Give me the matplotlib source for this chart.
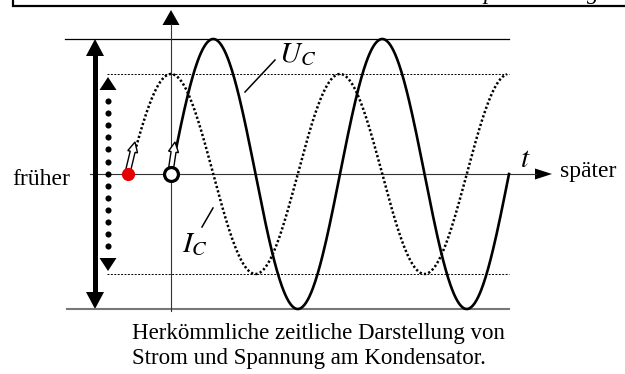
import numpy as np
from matplotlib import pyplot
from matplotlib.patches import FancyArrow

# diagram values (pixel-like units, origin where the t axis meets the vertical axis)
period = 169.0
u_amp = 135.0
i_amp = 100.0
u_start, u_end = 5.0, 338.0
i_start, i_end = -36.0, 336.0
start_red = -43.0  # red point: start of the current curve (earlier)
start_black = 0.0  # open circle: start of the voltage curve

caption = ['Herkömmliche zeitliche Darstellung von',
           'Strom und Spannung am Kondensator.']

pyplot.rcParams['font.family'] = ['Liberation Serif', 'DejaVu Serif']
pyplot.rcParams['mathtext.fontset'] = 'stix'

fig = pyplot.figure(figsize=(6.25, 3.74), dpi=100)
ax = fig.add_axes([0, 0, 1, 1])
ax.set_xlim(-171, 454)
ax.set_ylim(-200, 174)
ax.axis('off')

# cut-off box at the top
ax.plot([-158, -158, 460], [180, 168, 168], color='black', lw=1.6, solid_joinstyle='miter')
ax.text(312, 175, 'p', fontsize=17, style='italic', va='baseline')
ax.text(416, 175, 'g', fontsize=17, style='italic', va='baseline')

# reference lines
ax.plot([-106, 338], [u_amp, u_amp], color='black', lw=0.9)
ax.plot([-104, 338], [-u_amp, -u_amp], color='#777777', lw=1.5)
ax.plot([-64, 338], [i_amp, i_amp], color='black', lw=0.7, linestyle=(0, (2, 1.5)))
ax.plot([-64, 338], [-i_amp, -i_amp], color='black', lw=0.7, linestyle=(0, (2, 1.5)))

# axes
ax.plot([-81, 365], [0, 0], color='#333333', lw=0.8)
ax.add_patch(FancyArrow(362, 0, 19, 0, width=0, head_width=11, head_length=17,
                        length_includes_head=True, fc='black', ec='none'))
ax.plot([0, 0], [-137, 150], color='#333333', lw=0.8)
ax.add_patch(FancyArrow(0, 148, 0, 16, width=0, head_width=17, head_length=15,
                        length_includes_head=True, fc='black', ec='none'))

# thick double arrow (voltage range)
ax.plot([-76, -76], [-121, 121], color='black', lw=3.6, solid_capstyle='butt')
for sgn in (1, -1):
    ax.add_patch(FancyArrow(-76, sgn * 118, 0, sgn * 17, width=0, head_width=18, head_length=17,
                            length_includes_head=True, fc='black', ec='none'))

# dotted double arrow (current range)
dots_y = np.arange(73, -74, -12.1)
ax.plot(np.full_like(dots_y, -63), dots_y, 'o', color='black', ms=4.4, mec='none')
for sgn in (1, -1):
    ax.add_patch(FancyArrow(-63, sgn * 84, 0, sgn * 13, width=0, head_width=17, head_length=13,
                            length_includes_head=True, fc='black', ec='none'))

# curves
t_u = np.linspace(u_start, u_end, 400)
t_i = np.linspace(i_start, i_end, 400)
ax.plot(t_u, u_amp * np.sin(2 * np.pi * t_u / period), color='black', lw=1.9)
ax.plot(t_i, i_amp * np.cos(2 * np.pi * t_i / period), color='black', lw=1.8,
        linestyle=(0, (0.9, 0.9)))

# start points with hollow arrows
ax.add_patch(FancyArrow(start_red, 3, 7, 29, width=5, head_width=10, head_length=10,
                        length_includes_head=True, fc='white', ec='black', lw=1.0, zorder=4))
ax.add_patch(FancyArrow(start_black, 5, 4, 27, width=5, head_width=10, head_length=10,
                        length_includes_head=True, fc='white', ec='black', lw=1.0, zorder=4))
ax.plot([start_red], [0], 'o', color='#e60000', ms=9.5, mec='none', zorder=5)
ax.plot([start_black], [0], 'o', mfc='white', mec='black', mew=2.3, ms=10, zorder=5)

# labels
ax.plot([74, 104], [82, 114], color='black', lw=1.1)
ax.text(108, 112, r'$U_C$', fontsize=21, va='baseline')
ax.plot([31, 42], [-53, -34], color='black', lw=1.1)
ax.text(11, -78, r'$I_C$', fontsize=21, va='baseline')
ax.text(349, 7, r'$t$', fontsize=21, va='baseline')
ax.text(-159, -11, 'früher', fontsize=17, va='baseline')
ax.text(389, -3, 'später', fontsize=17, va='baseline')
ax.text(-39, -165, caption[0], fontsize=16.5, va='baseline')
ax.text(-39, -190, caption[1], fontsize=16.5, va='baseline')

fig.savefig('out.png', dpi=100)
